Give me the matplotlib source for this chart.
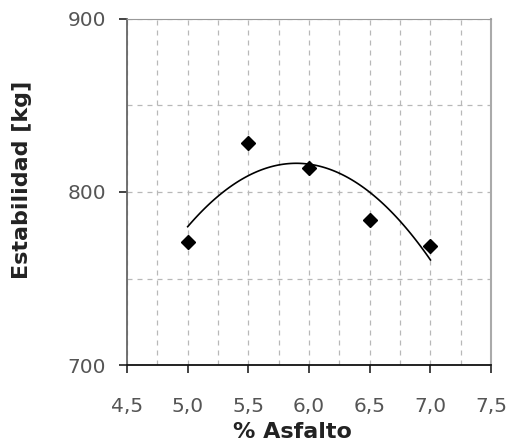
import numpy as np
import matplotlib
matplotlib.use("Agg")
import matplotlib.pyplot as plt
from matplotlib.ticker import MultipleLocator, FuncFormatter

# % asfalto vs estabilidad (kg)
asfalto = [5.0, 5.5, 6.0, 6.5, 7.0]
estabilidad = [771, 828, 814, 784, 769]

x_ticks = [4.5, 5.0, 5.5, 6.0, 6.5, 7.0, 7.5]
y_ticks = [700, 800, 900]

# polynomial trendline (2nd order) like the spreadsheet
coef = np.polyfit(asfalto, estabilidad, 2)
xs = np.linspace(min(asfalto), max(asfalto), 100)
ys = np.polyval(coef, xs)

plt.rcParams['font.family'] = ['DejaVu Sans']

fig = plt.figure(figsize=(5.1, 4.48), dpi=100)
ax = fig.add_axes([0.249, 0.185, 0.714, 0.773])

ax.plot(xs, ys, color='black', lw=1.2, zorder=3)
ax.plot(asfalto, estabilidad, 'D', color='black', markersize=7, zorder=4)

ax.set_xlim(4.5, 7.5)
ax.set_ylim(700, 900)
ax.set_xticks(x_ticks)
ax.set_yticks(y_ticks)
ax.xaxis.set_minor_locator(MultipleLocator(0.25))
ax.yaxis.set_minor_locator(MultipleLocator(50))
ax.xaxis.set_major_formatter(FuncFormatter(lambda v, p: ('%.1f' % v).replace('.', ',')))

ax.grid(True, which='both', axis='both', ls=(0, (4, 4)), color='#b8b8b8', lw=0.9)
ax.set_axisbelow(True)

ax.tick_params(which='major', direction='out', length=6, width=1.2, labelsize=14.5,
               colors='#222222', labelcolor='#555555')
ax.tick_params(axis='x', pad=17)
ax.tick_params(axis='y', pad=9)
ax.tick_params(which='minor', length=0)

ax.spines['bottom'].set_color('#111111')
ax.spines['bottom'].set_linewidth(1.3)
ax.spines['left'].set_color('#666666')
ax.spines['left'].set_linewidth(1.3)
ax.spines['top'].set_color('#999999')
ax.spines['right'].set_color('#aaaaaa')
ax.spines['right'].set_linewidth(1.5)

ax.set_xlabel('% Asfalto', fontsize=16, fontweight='bold', color='#222222')
ax.set_ylabel('Estabilidad [kg]', fontsize=16, fontweight='bold', color='#222222')
ax.xaxis.set_label_coords(0.453, -0.163)
ax.yaxis.set_label_coords(-0.261, 0.535)

fig.savefig('out.png', dpi=100, facecolor='white')
